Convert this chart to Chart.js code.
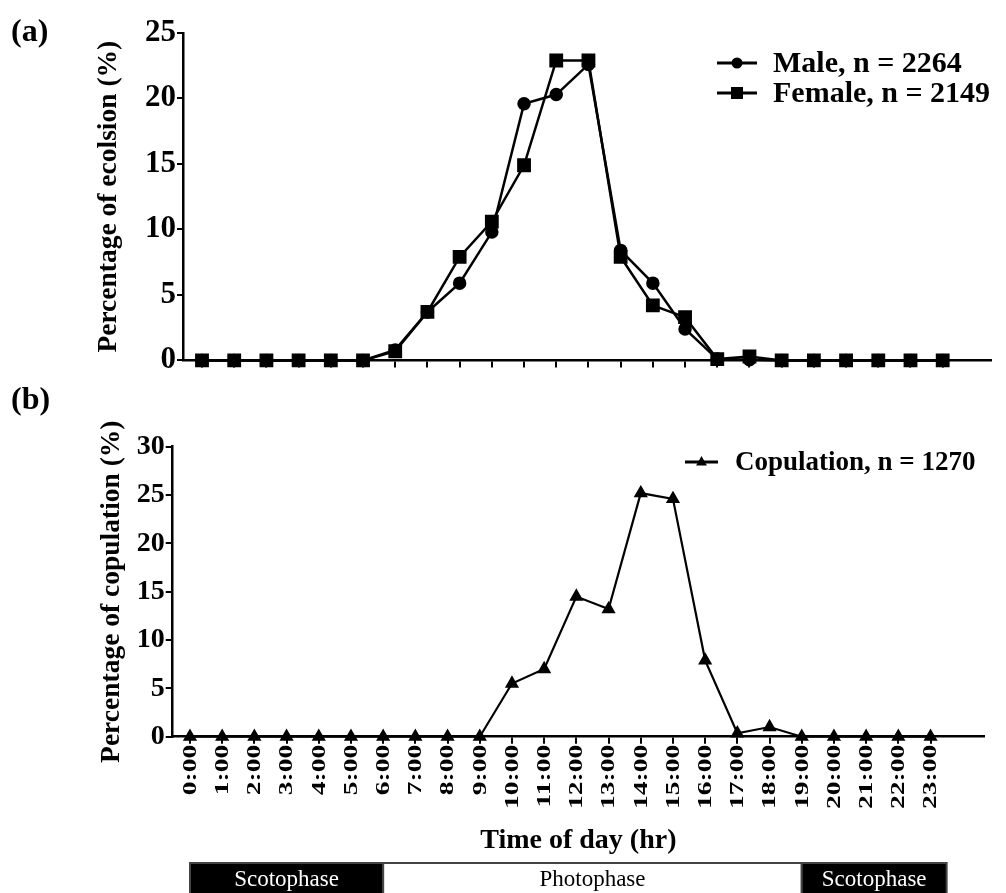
<!DOCTYPE html>
<html>
<head>
<meta charset="utf-8">
<script src="https://cdn.jsdelivr.net/npm/chart.js@4.4.0/dist/chart.umd.min.js"></script>
<style>
  html, body { margin: 0; padding: 0; background: #fff; }
  #wrap { position: relative; width: 1006px; height: 893px; overflow: hidden; background: #fff; }
  canvas { position: absolute; left: 0; }
  #ecl { top: 0; }
  #cop { top: 380px; }
</style>
</head>
<body>
<div id="wrap">
  <canvas id="ecl" width="1006" height="380"></canvas>
  <canvas id="cop" width="1006" height="513"></canvas>
</div>
<script>
// hour of day, 0..23
const hours = [0, 1, 2, 3, 4, 5, 6, 7, 8, 9, 10, 11, 12, 13, 14, 15, 16, 17, 18, 19, 20, 21, 22, 23];
const hourLabels = ['0:00', '1:00', '2:00', '3:00', '4:00', '5:00', '6:00', '7:00', '8:00', '9:00', '10:00', '11:00',
  '12:00', '13:00', '14:00', '15:00', '16:00', '17:00', '18:00', '19:00', '20:00', '21:00', '22:00', '23:00'];

// (a) eclosion, %
const maleEclosion = [0, 0, 0, 0, 0, 0, 0.8, 3.7, 5.9, 9.8, 19.6, 20.3, 22.6, 8.4, 5.9, 2.4, 0.1, 0.05, 0, 0, 0, 0, 0, 0];
const femaleEclosion = [0, 0, 0, 0, 0, 0, 0.7, 3.7, 7.9, 10.6, 14.9, 22.9, 22.9, 7.9, 4.2, 3.3, 0.1, 0.3, 0, 0, 0, 0, 0, 0];
const eclosionLabels = ['Male, n = 2264', 'Female, n = 2149'];

// (b) copulation, %
const copulation = [0, 0, 0, 0, 0, 0, 0, 0, 0, 0, 5.5, 7.0, 14.5, 13.2, 25.2, 24.6, 7.9, 0.35, 1.0, 0, 0, 0, 0, 0];
const copulationLabel = 'Copulation, n = 1270';

// light regime bar
const phaseNames = ['Scotophase', 'Photophase', 'Scotophase'];
const phaseEdges = [0, 6, 19, 23.5];

const SERIF = '"Liberation Serif", "Times New Roman", serif';
Chart.defaults.font.family = SERIF;
Chart.defaults.font.weight = 'bold';
Chart.defaults.color = '#000';

function toXY(vals) {
  return hours.map((h, i) => ({ x: h, y: vals[i] }));
}

function marker(ctx, style, x, y, r) {
  ctx.beginPath();
  if (style === 'circle') {
    ctx.arc(x, y, r, 0, Math.PI * 2);
  } else if (style === 'rect') {
    ctx.rect(x - r, y - r, 2 * r, 2 * r);
  } else {
    ctx.moveTo(x, y - r);
    ctx.lineTo(x + r * 0.9, y + r * 0.6);
    ctx.lineTo(x - r * 0.9, y + r * 0.6);
    ctx.closePath();
  }
  ctx.fill();
}

function legendRow(ctx, style, r, x0, x1, y, text, tx, size) {
  ctx.save();
  ctx.strokeStyle = '#000';
  ctx.fillStyle = '#000';
  ctx.lineWidth = 3;
  ctx.beginPath();
  ctx.moveTo(x0, y);
  ctx.lineTo(x1, y);
  ctx.stroke();
  marker(ctx, style, (x0 + x1) / 2, y, r);
  ctx.font = 'bold ' + size + 'px ' + SERIF;
  ctx.textAlign = 'left';
  ctx.textBaseline = 'middle';
  ctx.fillText(text, tx, y + 1);
  ctx.restore();
}

function panelLabel(ctx, text, x, y) {
  ctx.save();
  ctx.font = 'bold 32px ' + SERIF;
  ctx.fillStyle = '#000';
  ctx.textAlign = 'left';
  ctx.textBaseline = 'alphabetic';
  ctx.fillText(text, x, y);
  ctx.restore();
}

const axisX = (min, max) => ({
  type: 'linear',
  min: min,
  max: max,
  afterBuildTicks: (axis) => { axis.ticks = hours.map(h => ({ value: h })); },
  ticks: { display: false },
  grid: { display: true, drawOnChartArea: false, drawTicks: true, tickLength: 7, color: '#000', lineWidth: 2 },
  border: { display: true, color: '#000', width: 2.5 }
});

// ---------- (a) ----------
new Chart(document.getElementById('ecl').getContext('2d'), {
  type: 'line',
  data: {
    datasets: [{
      label: eclosionLabels[0],
      data: toXY(maleEclosion),
      borderColor: '#000',
      borderWidth: 2.5,
      pointStyle: 'circle',
      pointRadius: 5.5,
      pointBackgroundColor: '#000',
      pointBorderColor: '#000',
      tension: 0,
      clip: false,
      order: 1
    }, {
      label: eclosionLabels[1],
      data: toXY(femaleEclosion),
      borderColor: '#000',
      borderWidth: 2.5,
      pointStyle: 'rect',
      pointRadius: 8,
      pointBackgroundColor: '#000',
      pointBorderColor: '#000',
      tension: 0,
      clip: false,
      order: 0
    }]
  },
  options: {
    responsive: false,
    animation: false,
    devicePixelRatio: 1,
    events: [],
    layout: { padding: { top: 33, right: 15, left: 0, bottom: 0 } },
    scales: {
      x: Object.assign(axisX(-0.59, 24.5), {
        afterFit: (s) => { s.height = 16; }
      }),
      y: {
        min: 0,
        max: 25,
        ticks: { stepSize: 5, padding: 1, font: { size: 31, weight: 'bold' } },
        grid: { display: true, drawOnChartArea: false, drawTicks: true, tickLength: 6, color: '#000', lineWidth: 2 },
        border: { display: true, color: '#000', width: 2.5 },
        title: {
          display: true,
          text: 'Percentage of ecolsion (%)',
          font: { size: 27.5, weight: 'bold' },
          padding: { top: 92, bottom: 0 }
        },
        afterFit: (s) => { s.width = 183; }
      }
    },
    plugins: { legend: { display: false }, tooltip: { enabled: false } }
  },
  plugins: [{
    id: 'decorA',
    afterDraw(chart) {
      const ctx = chart.ctx;
      panelLabel(ctx, '(a)', 11, 41);
      legendRow(ctx, 'circle', 5.5, 717, 757, 63, eclosionLabels[0], 773, 30);
      legendRow(ctx, 'rect', 6, 717, 757, 93, eclosionLabels[1], 773, 30);
    }
  }]
});

// ---------- (b) ----------
new Chart(document.getElementById('cop').getContext('2d'), {
  type: 'line',
  data: {
    datasets: [{
      label: copulationLabel,
      data: toXY(copulation),
      borderColor: '#000',
      borderWidth: 2.2,
      pointStyle: 'triangle',
      pointRadius: 6,
      pointBackgroundColor: '#000',
      pointBorderColor: '#000',
      tension: 0,
      clip: false
    }]
  },
  options: {
    responsive: false,
    animation: false,
    devicePixelRatio: 1,
    events: [],
    layout: { padding: { top: 66.7, right: 22, left: 0, bottom: 0 } },
    scales: {
      x: Object.assign(axisX(-0.537, 24.66), {
        title: {
          display: true,
          text: 'Time of day (hr)',
          font: { size: 28, weight: 'bold' },
          padding: { top: 0, bottom: 35 }
        },
        afterFit: (s) => { s.height = 156.3; }
      }),
      y: {
        min: 0,
        max: 30,
        ticks: { stepSize: 5, padding: 1, font: { size: 28, weight: 'bold' } },
        grid: { display: true, drawOnChartArea: false, drawTicks: true, tickLength: 7, color: '#000', lineWidth: 2 },
        border: { display: true, color: '#000', width: 2.5 },
        title: {
          display: true,
          text: 'Percentage of copulation (%)',
          font: { size: 27.5, weight: 'bold' },
          padding: { top: 95, bottom: 0 }
        },
        afterFit: (s) => { s.width = 172.7; }
      }
    },
    plugins: { legend: { display: false }, tooltip: { enabled: false } }
  },
  plugins: [{
    id: 'decorB',
    afterDraw(chart) {
      const ctx = chart.ctx;
      const xs = chart.scales.x;
      const area = chart.chartArea;
      panelLabel(ctx, '(b)', 11, 29);
      legendRow(ctx, 'triangle', 6, 685, 718, 82, copulationLabel, 735, 27);

      // rotated hour labels (tall, narrow glyphs as in the original)
      ctx.save();
      ctx.fillStyle = '#000';
      ctx.font = 'bold 19px ' + SERIF;
      ctx.textAlign = 'right';
      ctx.textBaseline = 'middle';
      hours.forEach((h, i) => {
        ctx.save();
        ctx.translate(xs.getPixelForValue(h) + 1, area.bottom + 8);
        ctx.rotate(-Math.PI / 2);
        ctx.scale(1.45, 1);
        ctx.fillText(hourLabels[i], 0, 0);
        ctx.restore();
      });
      ctx.restore();

      // light regime bar
      const top = 483, bot = 515;
      ctx.save();
      for (let i = 0; i < phaseNames.length; i++) {
        const a = xs.getPixelForValue(phaseEdges[i]);
        const b = xs.getPixelForValue(phaseEdges[i + 1]);
        const dark = phaseNames[i] === 'Scotophase';
        ctx.fillStyle = dark ? '#000' : '#fff';
        ctx.fillRect(a, top, b - a, bot - top);
        ctx.strokeStyle = '#444';
        ctx.lineWidth = 2;
        ctx.strokeRect(a, top, b - a, bot - top);
        ctx.fillStyle = dark ? '#fff' : '#000';
        ctx.font = '23px ' + SERIF;
        ctx.textAlign = 'center';
        ctx.textBaseline = 'middle';
        ctx.fillText(phaseNames[i], (a + b) / 2, 500);
      }
      ctx.restore();
    }
  }]
});
</script>
</body>
</html>
